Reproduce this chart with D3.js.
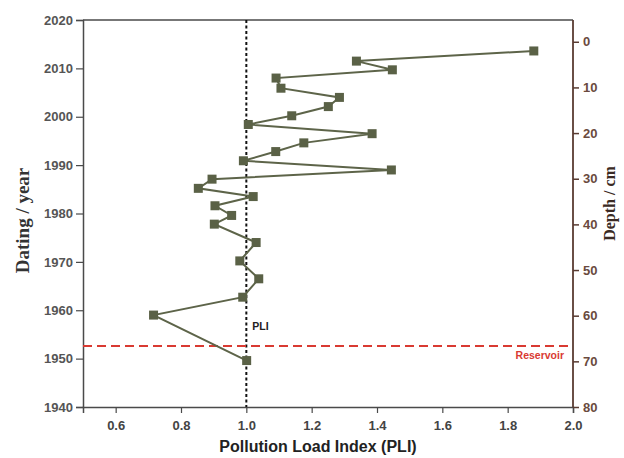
<!DOCTYPE html>
<html>
<head>
<meta charset="utf-8">
<script src="https://cdn.jsdelivr.net/npm/d3@7"></script>
<style>
  body { margin: 0; background: #fff; }
  svg text { font-family: "Liberation Sans", Arial, sans-serif; }
</style>
</head>
<body>
<svg id="chart" width="624" height="458"></svg>
<script>
// PLI per dated sediment layer
const years = [2013.6, 2011.5, 2009.7, 2008.0, 2005.9, 2004.0, 2002.1, 2000.2, 1998.4, 1996.5,
               1994.6, 1992.8, 1990.9, 1989.0, 1987.1, 1985.2, 1983.5, 1981.6, 1979.6, 1977.8,
               1974.0, 1970.2, 1966.5, 1962.7, 1959.0, 1949.6];
const pli = [1.88, 1.337, 1.447, 1.091, 1.106, 1.285, 1.251, 1.139, 1.006, 1.385,
             1.176, 1.090, 0.991, 1.444, 0.895, 0.853, 1.021, 0.904, 0.955, 0.902,
             1.030, 0.980, 1.038, 0.989, 0.716, 1.001];
const xTicks = [0.6, 0.8, 1.0, 1.2, 1.4, 1.6, 1.8, 2.0];
const yearTicks = [1940, 1950, 1960, 1970, 1980, 1990, 2000, 2010, 2020];
const depthTicks = [0, 10, 20, 30, 40, 50, 60, 70, 80];
const pliRef = 1.0;
const reservoirYear = 1952.6;
const depthTopYear = 2015.5; // year matching depth 0

const svg = d3.select("#chart");
const mLeft = 83, mRight = 573, mTop = 20, mBottom = 407;

const x = d3.scaleLinear().domain([0.5, 2.0]).range([mLeft, mRight]);
const y = d3.scaleLinear().domain([1940, 2020]).range([mBottom, mTop]);
const yDepth = d3.scaleLinear().domain([0, 80]).range([y(depthTopYear), y(1940)]);

// top frame
svg.append("line")
  .attr("x1", mLeft).attr("x2", mRight).attr("y1", mTop).attr("y2", mTop)
  .attr("stroke", "#4a4a4a").attr("stroke-width", 1.5);

// bottom axis
const gx = svg.append("g").attr("transform", `translate(0,${mBottom})`)
  .call(d3.axisBottom(x).tickValues(xTicks).tickFormat(d3.format(".1f")).tickSizeOuter(0).tickSize(6));
gx.select(".domain").attr("stroke", "#4a4a4a").attr("stroke-width", 1.5);
gx.selectAll(".tick line").attr("stroke", "#4a4a4a").attr("stroke-width", 1.2);
gx.selectAll(".tick text").attr("fill", "#444").attr("font-size", 13).attr("font-weight", "bold")
  .attr("dy", "1.1em");

// left axis
const gy = svg.append("g").attr("transform", `translate(${mLeft},0)`)
  .call(d3.axisLeft(y).tickValues(yearTicks).tickFormat(d3.format("d")).tickSizeOuter(0).tickSize(7));
gy.select(".domain").attr("stroke", "#4a4a4a").attr("stroke-width", 1.5);
gy.selectAll(".tick line").attr("stroke", "#4a4a4a").attr("stroke-width", 1.2);
gy.selectAll(".tick text").attr("fill", "#555").attr("font-size", 13).attr("font-weight", "bold")
  .attr("x", -10);

// right axis (depth)
svg.append("line")
  .attr("x1", mRight).attr("x2", mRight).attr("y1", mTop).attr("y2", mBottom)
  .attr("stroke", "#5a3c32").attr("stroke-width", 1.8);
const gd = svg.append("g").attr("transform", `translate(${mRight},0)`)
  .call(d3.axisRight(yDepth).tickValues(depthTicks).tickSizeOuter(0).tickSize(6));
gd.select(".domain").remove();
gd.selectAll(".tick line").attr("stroke", "#5a3c32").attr("stroke-width", 1.5);
gd.selectAll(".tick text").attr("fill", "#6a4a3e").attr("font-size", 13).attr("font-weight", "bold")
  .attr("x", 10);

// axis titles
svg.append("text")
  .attr("transform", `translate(29,${(mTop + mBottom) / 2 + 7}) rotate(-90)`)
  .attr("text-anchor", "middle")
  .style("font-family", "'Liberation Serif', 'Times New Roman', serif")
  .attr("font-size", 19).attr("font-weight", "bold").attr("fill", "#333")
  .text("Dating / year");
svg.append("text")
  .attr("transform", `translate(615,${(mTop + mBottom) / 2 - 10}) rotate(-90)`)
  .attr("text-anchor", "middle")
  .style("font-family", "'Liberation Serif', 'Times New Roman', serif")
  .attr("font-size", 16).attr("font-weight", "bold").attr("fill", "#3a2a24")
  .text("Depth / cm");
svg.append("text")
  .attr("x", (mLeft + mRight) / 2 - 10).attr("y", 452)
  .attr("text-anchor", "middle")
  .attr("font-size", 16).attr("font-weight", "bold").attr("fill", "#222")
  .text("Pollution Load Index (PLI)");

// PLI = 1 reference line
svg.append("line")
  .attr("x1", x(pliRef)).attr("x2", x(pliRef)).attr("y1", mTop).attr("y2", mBottom)
  .attr("stroke", "#111").attr("stroke-width", 2).attr("stroke-dasharray", "3,2.5");
svg.append("text")
  .attr("x", x(pliRef) + 6).attr("y", 330)
  .attr("font-size", 10.5).attr("font-weight", "bold").attr("fill", "#222")
  .text("PLI");

// reservoir line
svg.append("line")
  .attr("x1", mLeft).attr("x2", mRight).attr("y1", y(reservoirYear)).attr("y2", y(reservoirYear))
  .attr("stroke", "#d93a32").attr("stroke-width", 2).attr("stroke-dasharray", "9,5");
svg.append("text")
  .attr("x", 564).attr("y", y(reservoirYear) + 13)
  .attr("text-anchor", "end")
  .attr("font-size", 10.5).attr("font-weight", "bold").attr("fill", "#d93a32")
  .text("Reservoir");

// series
const pts = years.map((yr, i) => ({ year: yr, v: pli[i] }));
const line = d3.line().x(d => x(d.v)).y(d => y(d.year));
svg.append("path").datum(pts)
  .attr("d", line).attr("fill", "none")
  .attr("stroke", "#5d6449").attr("stroke-width", 2);
svg.selectAll(".pt").data(pts).enter().append("rect")
  .attr("class", "pt")
  .attr("x", d => x(d.v) - 4.5).attr("y", d => y(d.year) - 4.5)
  .attr("width", 9).attr("height", 9)
  .attr("fill", "#5a6146");
</script>
</body>
</html>
